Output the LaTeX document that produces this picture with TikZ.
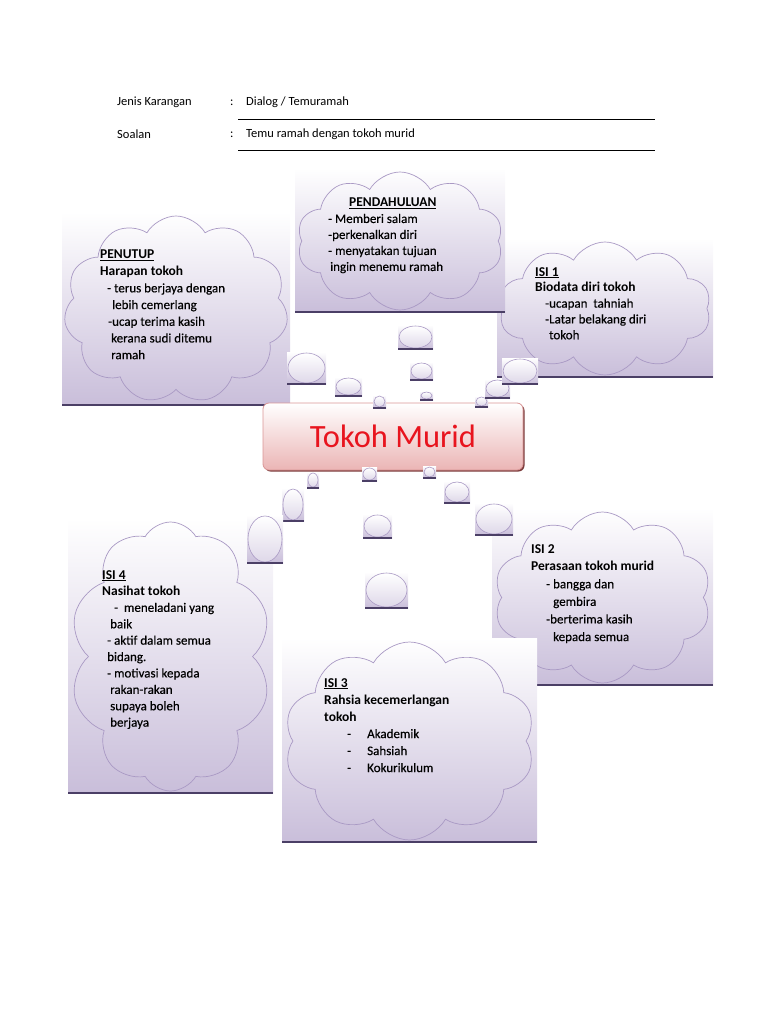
\documentclass[tikz,border=0pt]{standalone}
\usepackage{fontspec}
\setmainfont{Carlito}
\newfontfamily\medfont{Carlito}[FakeBold=0.35]
\usetikzlibrary{shapes.symbols,shadows}

\definecolor{lav}{HTML}{C9BEDA}
\definecolor{cloudln}{HTML}{A999C4}
\definecolor{shadowln}{HTML}{4B3F66}
\definecolor{hubpink}{HTML}{EBB5B5}
\definecolor{hubline}{HTML}{D99595}
\definecolor{hubred}{HTML}{E8141E}
\definecolor{hubshadow}{HTML}{7B3B3B}

\tikzset{
  panel/.style={top color=white,bottom color=lav},
  puffcloud/.style={cloud,cloud puff arc=120,cloud ignores aspect,
    draw=cloudln,line width=0.7pt,inner sep=0pt},
  txt/.style={anchor=north west,inner sep=0pt,align=left},
  head/.style={anchor=west,inner sep=0pt,font=\fontsize{12.5}{15}\selectfont},
  hub/.style={rectangle,rounded corners=6pt,draw=hubline,line width=0.8pt,
    top color=white,bottom color=hubpink,minimum width=260pt,minimum height=67pt,
    text=hubred,font=\fontsize{32.5}{36}\selectfont,
    drop shadow={shadow xshift=1.5pt,shadow yshift=-1.5pt,fill=hubshadow,opacity=1}}
}
\newcommand{\ttl}[1]{{\fontsize{13.5}{16.5}\selectfont\rmfamily\bfseries #1}}
\newcommand{\bodyfont}[1]{\fontsize{13}{#1}\medfont}

\begin{document}
\begin{tikzpicture}[x=1pt,y=-1pt]
  \useasboundingbox (0,0) rectangle (768,1024);

  % header
  \node[head] (jenis) at (117,102) {Jenis Karangan};
  \node[head] (jeniscolon) at (230,103) {:};
  \node[head] (jenisval) at (246,102) {Dialog / Temuramah};
  \draw[line width=0.8pt] (238,119) -- (655,119);
  \node[head] (soalan) at (117,134) {Soalan};
  \node[head] (soalancolon) at (230,135) {:};
  \node[head] (soalanval) at (246,134) {Temu ramah dengan tokoh murid};
  \draw[line width=0.8pt] (238,150) -- (655,150);

  % cloud panels
  \foreach \nm/\xa/\xb/\ya/\yb/\np in {penutup/62/290/212/405/11, isisatu/497/713/238/377/10,
      pendahuluan/295/505/168/312/10, isiempat/68/273/518/793/10,
      isidua/492/713/508/685/10, isitiga/282/537/638/842/10}{
    \shade[panel] (\xa,\ya) rectangle (\xb,\yb);
    \node[puffcloud,cloud puffs=\np,minimum width={(\xb-\xa-4)*1pt},minimum height={(\yb-\ya-6)*1pt}]
      (\nm) at ({(\xa+\xb)/2},{(\ya+\yb)/2+1}) {};
    \draw[shadowln,line width=1.5pt] (\xa,\yb) -- (\xb,\yb);
  }

  % centre
  \node[hub] (tokoh) at (393,436.5) {Tokoh Murid};

  % small bubbles
  \foreach \xa/\xb/\ya/\yb in {398/433/325/349, 287/326/352/384, 335/362/377/396,
      410/433/362/380, 373/386/395/408, 420/433/391/400, 475/488/396/407,
      485/510/379/398, 502/538/358/384, 307/319/472/488, 362/377/467/481,
      423/436/466/478, 282/304/488/521, 247/283/515/563, 444/470/481/503,
      475/513/503/535, 363/392/514/538, 365/408/572/608}{
    \shade[panel] (\xa,\ya) rectangle (\xb,\yb);
    \shadedraw[top color=white,bottom color=lav!60!white,draw=cloudln,line width=0.6pt]
      ({(\xa+\xb)/2},{(\ya+\yb)/2}) ellipse ({(\xb-\xa)/2-1} and {(\yb-\ya)/2-1});
    \draw[shadowln,line width=1.2pt] (\xa,\yb) -- (\xb,\yb);
  }

  % texts
  \node[txt,font=\bodyfont{16.7}] (penututxt) at (100,250) {%
    \ttl{\underline{PENUTUP}}\\
    \ttl{Harapan tokoh}\\
    \hspace*{7pt}- terus berjaya dengan\\
    \hspace*{12pt}lebih cemerlang\\
    \hspace*{8pt}-ucap terima kasih\\
    \hspace*{11pt}kerana sudi ditemu\\
    \hspace*{11pt}ramah};
  \node[txt,font=\bodyfont{16}] (pendahtxt) at (328,198) {%
    \hspace*{21pt}\ttl{\underline{PENDAHULUAN}}\\
    - Memberi salam\\
    -perkenalkan diri\\
    - menyatakan tujuan\\
    \hspace*{2pt}ingin menemu ramah};
  \node[txt,font=\bodyfont{15.8}] (isisatutxt) at (535,267) {%
    \ttl{\underline{ISI 1}}\\
    \ttl{Biodata diri tokoh}\\
    \hspace*{10pt}-ucapan\ \ tahniah\\
    \hspace*{10pt}-Latar belakang diri\\
    \hspace*{14pt}tokoh};
  \node[txt,font=\bodyfont{17.6}] (isiduatxt) at (531,544) {%
    \ttl{ISI 2}\\
    \ttl{Perasaan tokoh murid}\\
    \hspace*{15pt}- bangga dan\\
    \hspace*{22pt}gembira\\
    \hspace*{15pt}-berterima kasih\\
    \hspace*{22pt}kepada semua};
  \node[txt,font=\bodyfont{17}] (isitigatxt) at (324,678) {%
    \ttl{\underline{ISI 3}}\\
    \ttl{Rahsia kecemerlangan}\\
    \ttl{tokoh}\\
    \hspace*{23pt}\makebox[20pt][l]{-}Akademik\\
    \hspace*{23pt}\makebox[20pt][l]{-}Sahsiah\\
    \hspace*{23pt}\makebox[20pt][l]{-}Kokurikulum};
  \node[txt,font=\bodyfont{16.4}] (isiempattxt) at (102,570) {%
    \ttl{\underline{ISI 4}}\\
    \ttl{Nasihat tokoh}\\
    \hspace*{12pt}-\ \ meneladani yang\\
    \hspace*{8pt}baik\\
    \hspace*{5pt}- aktif dalam semua\\
    \hspace*{5pt}bidang.\\
    \hspace*{5pt}- motivasi kepada\\
    \hspace*{8pt}rakan-rakan\\
    \hspace*{8pt}supaya boleh\\
    \hspace*{8pt}berjaya};
\end{tikzpicture}
\end{document}
